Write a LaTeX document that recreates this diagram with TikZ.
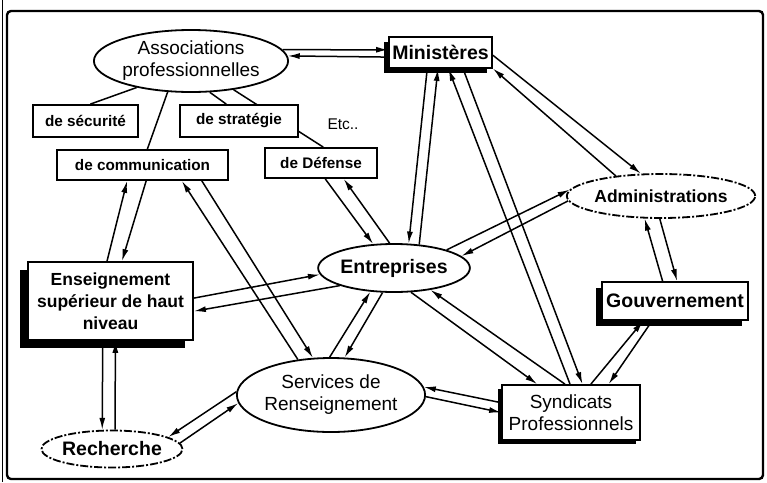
\documentclass[tikz,border=0pt]{standalone}
\usepackage{fontspec}
\setmainfont{Liberation Sans}
\usepackage{tikz}
\usetikzlibrary{shapes, shadows, arrows.meta, backgrounds}

\newcommand{\regfont}{\fontsize{19}{22}\selectfont}
\newcommand{\boldfont}{\bfseries\fontsize{17.5}{22}\selectfont}
\newcommand{\bigfont}{\bfseries\fontsize{19.5}{22}\selectfont}
\newcommand{\subfont}{\bfseries\fontsize{15.3}{18}\selectfont}

\begin{document}
\begin{tikzpicture}[x=1pt, y=-1pt, line width=1.6pt,
	box/.style={draw, fill=white, rectangle, inner sep=0pt, align=center, line width=1.8pt},
	shbox/.style={box, drop shadow={shadow xshift=-#1pt, shadow yshift=-#1pt, fill=black, opacity=1}},
	ell/.style={draw, fill=white, ellipse, inner sep=0pt, align=center, line width=1.8pt},
	link/.style={line width=1.5pt},
	arr/.style={link, -{Latex[length=12pt,width=6pt]}}]
	\useasboundingbox (0,0) rectangle (767,482);
	\draw[line width=2.4pt, rounded corners=4pt] (7,11) rectangle (763,479);
	\draw[line width=1.4pt] (2.5,0) -- (2.5,482);
	
	% les noeuds
	\node[ell, minimum width=176, minimum height=62, font=\regfont] (assoc) at (191,61) {Associations\\professionnelles};
	\node[shbox=5, minimum width=103, minimum height=31, font=\bigfont] (min) at (440.5,52.5) {Ministères};
	\node[box, minimum width=105, minimum height=32, font=\subfont] (secu) at (85.5,121) {de sécurité};
	\node[box, minimum width=118, minimum height=32, font=\subfont] (strat) at (239,121) {de stratégie};
	\node[font=\fontsize{15.5}{18}\selectfont] (etc) at (343,124) {Etc..};
	\node[box, minimum width=171, minimum height=30, font=\subfont] (comm) at (142.5,165) {de communication};
	\node[box, minimum width=112, minimum height=30, font=\subfont] (def) at (321,163) {de Défense};
	\node[ell, minimum width=138, minimum height=48, font=\bigfont] (ent) at (394,268) {Entreprises};
	\node[ell, dash pattern=on 8pt off 2pt on 2pt off 2pt, minimum width=174, minimum height=44, font=\boldfont] (adm) at (661,196) {Administrations};
	\node[shbox=8, minimum width=165, minimum height=78, font=\boldfont] (ens) at (110.5,301) {Enseignement\\supérieur de haut\\niveau};
	\node[shbox=6, minimum width=146, minimum height=38, font=\bigfont] (gouv) at (675,301) {Gouvernement};
	\node[ell, minimum width=168, minimum height=74, font=\regfont] (serv) at (331,395) {Services de\\Renseignement};
	\node[ell, dash pattern=on 8pt off 2pt on 2pt off 2pt, minimum width=136, minimum height=37, font=\bigfont] (rech) at (112,449) {Recherche};
	\node[shbox=4, minimum width=138, minimum height=55, font=\regfont] (synd) at (571,412.5) {Syndicats\\Professionnels};
	
	\begin{scope}[on background layer]
		% liens simples
		\foreach \a/\b in {assoc.206/secu.74, assoc.301/strat.127, assoc.326/def.82, assoc.233/comm.73}{
			\draw[link] (\a) -- (\b);
		}
		% fleches
		\foreach \a/\b in {assoc.7/min.177, min.185/assoc.3,
			ens.95/comm.226, comm.283/ens.74,
			serv.133/comm.338, comm.345/serv.116,
			def.285/ent.131, ent.100/def.325,
			min.231/ent.59, ent.43/min.261,
			synd.92/min.296, min.324/synd.68,
			min.357/adm.132, adm.156/min.343,
			ent.19/adm.176, adm.183/ent.10,
			gouv.122/adm.234, adm.267/gouv.84,
			synd.55/gouv.212, gouv.221/synd.37,
			ent.305/synd.140, synd.102/ent.329,
			serv.92/ent.225, ent.245/serv.70,
			ens.2/ent.185, ent.198/ens.353,
			ens.259/rech.117, rech.81/ens.277,
			serv.178/rech.12, rech.5/serv.185,
			synd.172/serv.5, serv.359/synd.180}{
			\draw[arr] (\a) -- (\b);
		}
	\end{scope}
\end{tikzpicture}
\end{document}
